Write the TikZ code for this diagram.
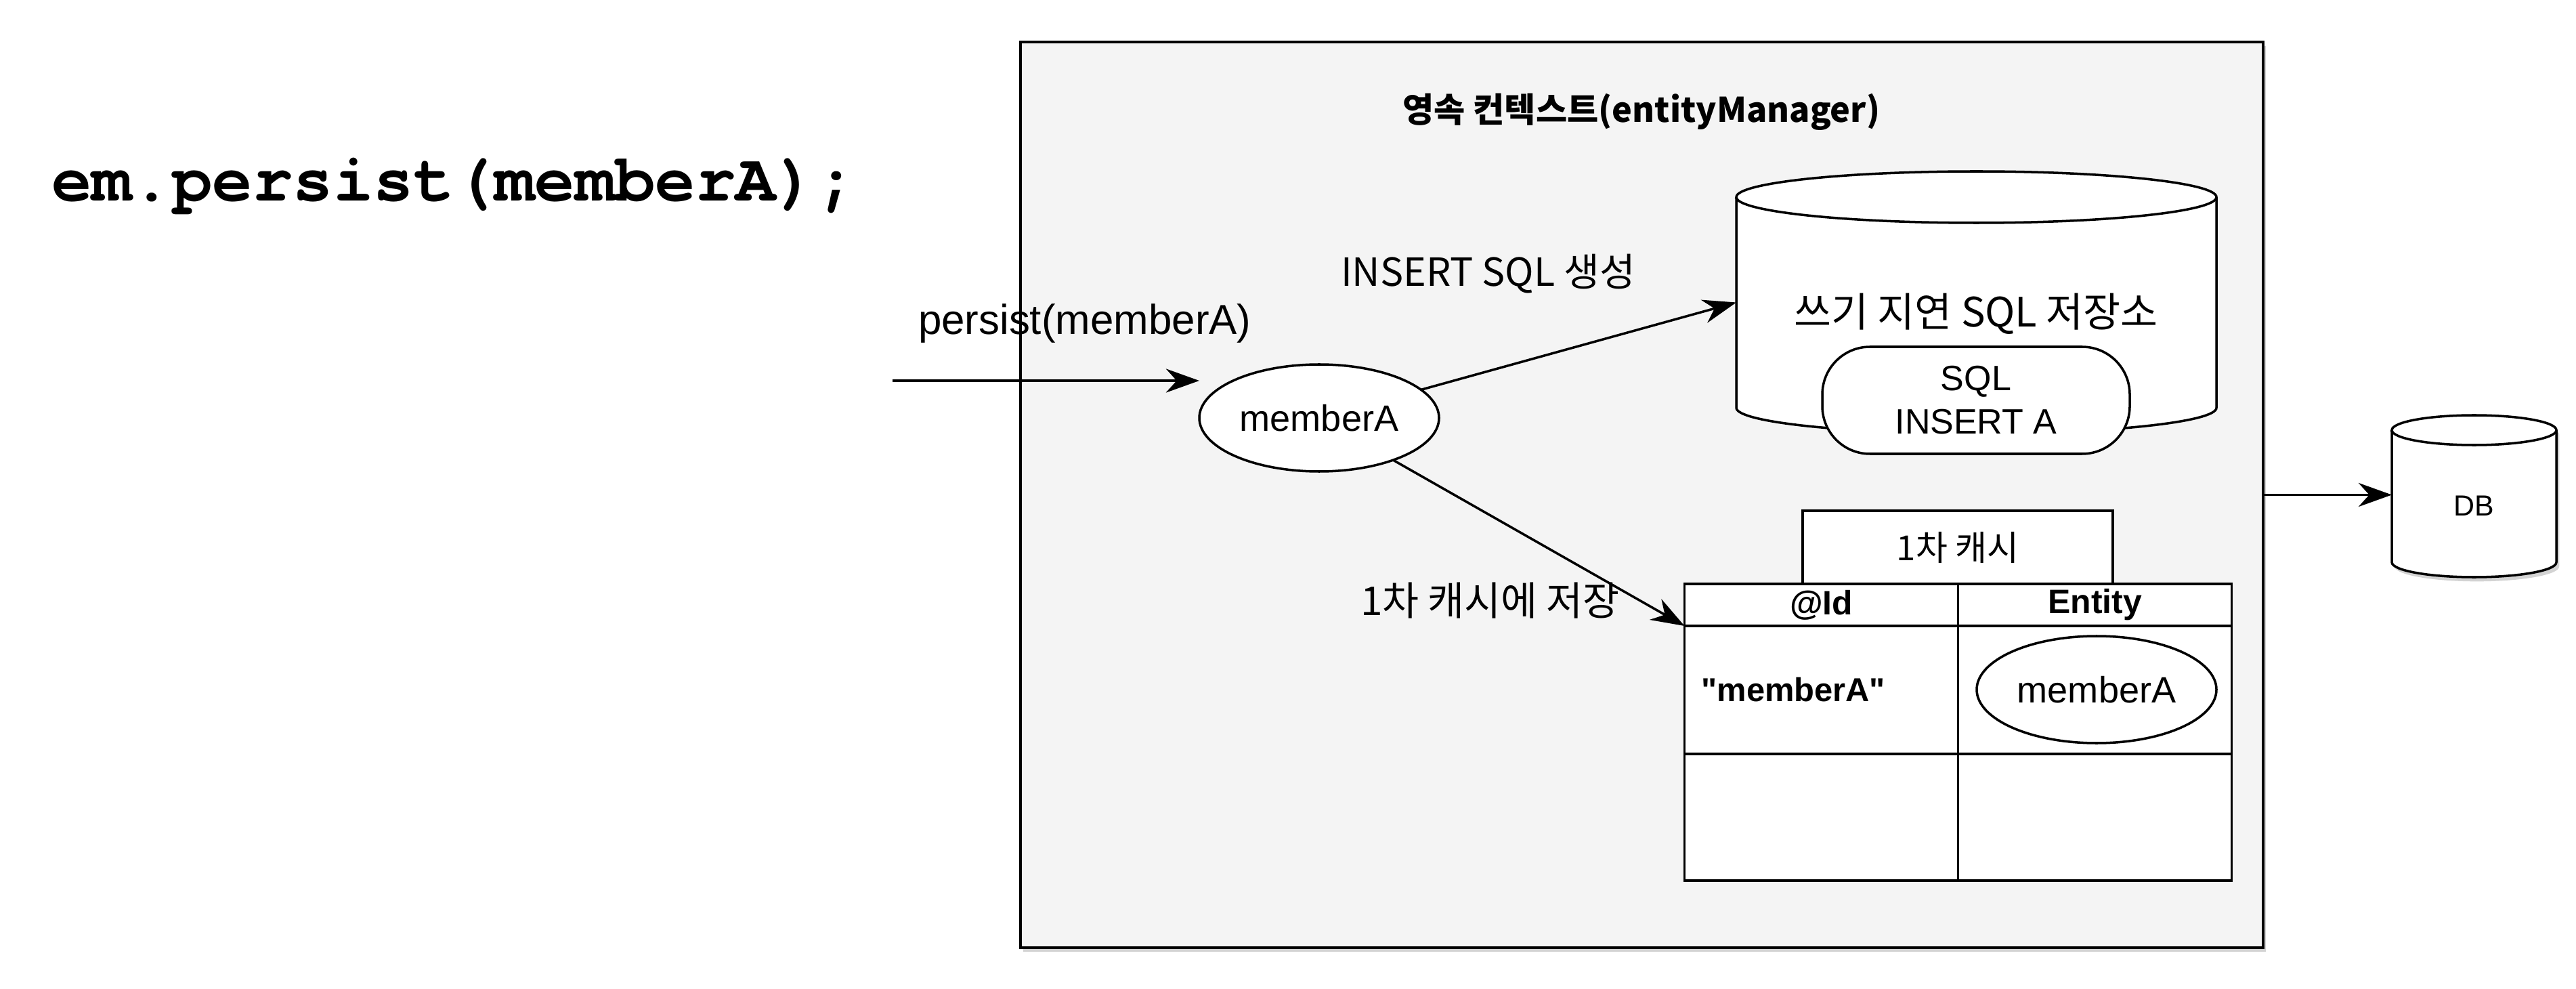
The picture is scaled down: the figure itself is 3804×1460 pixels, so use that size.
\documentclass[tikz,border=0pt]{standalone}
\usepackage{fontspec}
\setmainfont{Liberation Sans}[Ligatures=TeXOff]
\newfontfamily\kofont{Noto Sans CJK KR}
\newfontfamily\codefont{texgyrecursor-bold.otf}
\usetikzlibrary{
  arrows.meta,
  shapes.geometric,
  shadows
}
\definecolor{ctxgray}{HTML}{F4F4F4}

\begin{document}
\begin{tikzpicture}[
  x=0.1mm, y=-0.1mm,
  every node/.style={inner sep=0pt, outer sep=0pt},
  line/.style={line width=1pt},
  arr/.style={line width=1pt, -{Stealth[length=14pt, width=10pt, inset=4.5pt]}},
  shade/.style={drop shadow={opacity=.35, shadow xshift=1.2pt, shadow yshift=-1.8pt}},
  context/.style={draw, line width=1.3pt, fill=ctxgray, shade,
    minimum width=183.5mm, minimum height=133.7mm},
  member/.style={ellipse, draw, line width=1pt, fill=white,
    minimum width=35.4mm, minimum height=15.8mm, font=\fontsize{15.4pt}{18pt}\selectfont},
  pill/.style={draw, line width=1pt, fill=white, rounded corners=20pt, align=center,
    minimum width=45.4mm, minimum height=15.8mm, font=\fontsize{14.8pt}{18.2pt}\selectfont},
  cell/.style={draw, line width=1pt, fill=white, minimum width=40.4mm},
  kolabel/.style={font=\kofont\fontsize{#1}{1.2\dimexpr#1\relax}\selectfont},
]
\useasboundingbox (0,0) rectangle (3804,1460);

\node[anchor=base west, font=\codefont\fontsize{28.2pt}{34pt}\selectfont] (code) at (76,297) {em.persist(memberA);};

\node[context] (ctx) at (2424.5,730.5) {};
\node[anchor=base, font=\kofont\bfseries\fontsize{14.3pt}{17pt}\selectfont] (title) at (2424,181) {영속 컨텍스트(entityManager)};

\node[anchor=base west, font=\fontsize{17.6pt}{21pt}\selectfont] (plbl) at (1356,494) {persist(memberA)};
\coordinate (in) at (1318,562);
\node[member] (mA) at (1948,617) {memberA};
\draw[arr] (in) -- (in -| mA.west);

\node[minimum width=70.9mm, minimum height=31.1mm] (store) at (2918.5,446.5) {};
\draw[line, fill=white] (store.north west) -- (store.south west)
  arc[start angle=180, end angle=0, x radius=354.5, y radius=38] -- (store.north east)
  arc[start angle=0, end angle=-180, x radius=354.5, y radius=38] -- cycle;
\draw[line] (store.north west) arc[start angle=180, end angle=0, x radius=354.5, y radius=38];
\node[anchor=base, kolabel=17pt] (slbl) at (2918,483) {쓰기 지연 SQL 저장소};
\node[pill] (sqlA) at (2918,591) {SQL\\INSERT A};

\node[anchor=base west, kolabel=16.3pt] (ilbl) at (1980,423) {INSERT SQL 생성};
\draw[arr] (mA) -- (store.west);

\node[cell, minimum width=45.8mm, minimum height=10.8mm, kolabel=14.5pt] (tab) at (2891,808) {1차 캐시};
\node[cell, minimum height=6.2mm, font=\bfseries\fontsize{14.2pt}{17pt}\selectfont] (idh) at (2689.5,893) {@Id};
\node[cell, minimum height=6.2mm, font=\bfseries\fontsize{14.2pt}{17pt}\selectfont] (enth) at (3093.5,893) {Entity};
\node[cell, minimum height=18.9mm, text width=35.4mm, inner xsep=2.5mm, align=left,
  font=\bfseries\fontsize{13.9pt}{17pt}\selectfont] (idc) at (2689.5,1018.5) {"memberA"};
\node[cell, minimum height=18.9mm] (entc) at (3093.5,1018.5) {};
\node[cell, minimum height=18.7mm] (idr) at (2689.5,1206.5) {};
\node[cell, minimum height=18.7mm] (entr) at (3093.5,1206.5) {};
\node[member] (mB) at (3096,1018) {memberA};

\node[anchor=base west, kolabel=16.7pt] (clbl) at (2009,908) {1차 캐시에 저장};
\draw[arr] (mA) -- (idh.south west);

\node[minimum width=24.3mm, minimum height=19.5mm] (db) at (3653.5,732.5) {};
\draw[line, fill=white, shade] (db.north west) -- (db.south west)
  arc[start angle=180, end angle=0, x radius=121.5, y radius=22] -- (db.north east)
  arc[start angle=0, end angle=-180, x radius=121.5, y radius=22] -- cycle;
\draw[line] (db.north west) arc[start angle=180, end angle=0, x radius=121.5, y radius=22];
\node[font=\fontsize{12.2pt}{14pt}\selectfont] (dblbl) at (3653.5,747) {DB};
\draw[arr] (ctx.east) -- (ctx.east -| db.west);
\end{tikzpicture}
\end{document}
